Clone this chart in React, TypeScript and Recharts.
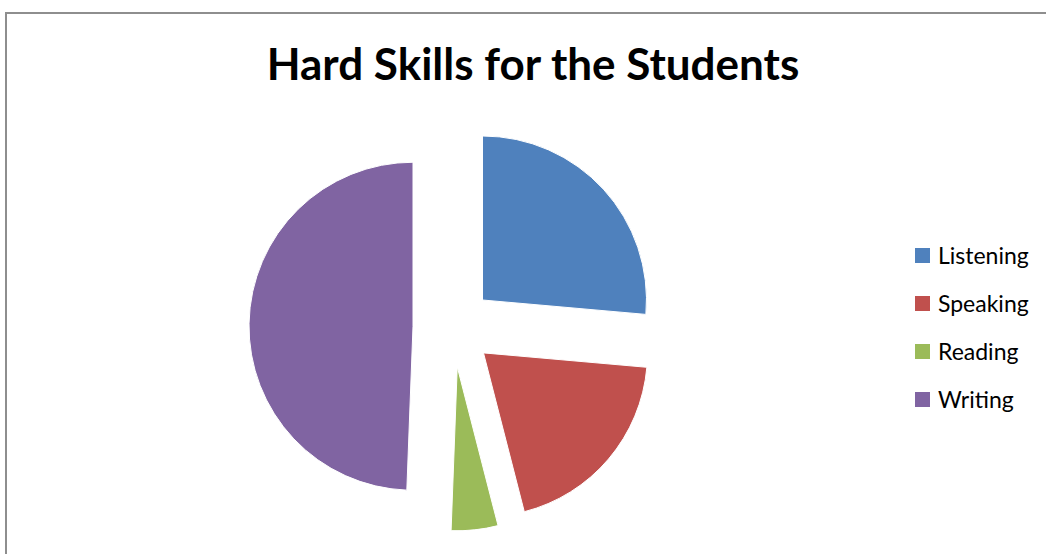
import { PieChart, Pie, Cell } from 'recharts'

const categories = ['Listening', 'Speaking', 'Reading', 'Writing']
const values = [26.4, 19.6, 4.6, 49.4]
const colors = ['#4F81BD', '#C0504D', '#9BBB59', '#8064A2']
const title = 'Hard Skills for the Students'

const data = categories.map((name, i) => ({ name, value: values[i] }))

const CX = 448
const CY = 322
const EXPLODE = 40
const START = 90
const END = -270

// mid angle of each slice (recharts degrees, counter-clockwise from 3 o'clock)
const total = values.reduce((a, b) => a + b, 0)
const midAngles: number[] = []
let acc = 0
values.forEach((v) => {
  const span = (v / total) * (END - START)
  midAngles.push(START + acc + span / 2)
  acc += span
})

const FONT = 'Lato, "Open Sans", sans-serif'

export default function App() {
  return (
    <div style={{ position: 'absolute', left: 0, top: 0, width: 1046, height: 554, overflow: 'hidden', background: '#fff' }}>
      <div
        style={{
          position: 'absolute',
          left: 5,
          top: 12,
          width: 1100,
          height: 600,
          borderTop: '2px solid #8e8e8e',
          borderLeft: '2px solid #8e8e8e',
        }}
      />
      <div
        style={{
          position: 'absolute',
          left: 0,
          width: 1066,
          top: 37,
          textAlign: 'center',
          fontFamily: FONT,
          fontWeight: 700,
          fontSize: 44,
          color: '#000',
        }}
      >
        {title}
      </div>
      <div style={{ position: 'absolute', left: 0, top: 0 }}>
        <PieChart width={1046} height={554}>
          {data.map((_, i) => {
            const rad = (midAngles[i] * Math.PI) / 180
            return (
              <Pie
                key={i}
                data={data}
                dataKey="value"
                nameKey="name"
                cx={CX + EXPLODE * Math.cos(rad)}
                cy={CY - EXPLODE * Math.sin(rad)}
                outerRadius={164}
                startAngle={START}
                endAngle={END}
                isAnimationActive={false}
                legendType="none"
              >
                {data.map((_, j) => (
                  <Cell
                    key={j}
                    fill={j === i ? colors[j] : 'transparent'}
                    stroke={j === i ? '#fff' : 'none'}
                    strokeWidth={1}
                  />
                ))}
              </Pie>
            )
          })}
        </PieChart>
      </div>
      <div style={{ position: 'absolute', left: 915, top: 231, fontFamily: FONT, fontSize: 23 }}>
        {categories.map((c, i) => (
          <div key={c} style={{ display: 'flex', alignItems: 'center', height: 48 }}>
            <span style={{ width: 15, height: 15, background: colors[i], marginRight: 8, display: 'inline-block' }} />
            <span>{c}</span>
          </div>
        ))}
      </div>
    </div>
  )
}
